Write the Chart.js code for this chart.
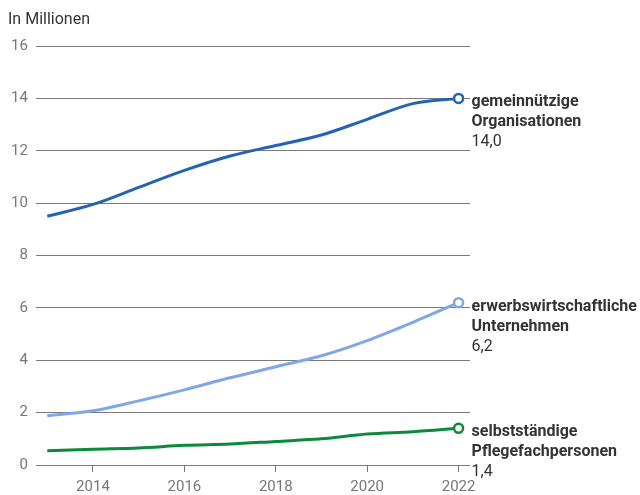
<!DOCTYPE html>
<html>
<head>
<meta charset="utf-8">
<script src="https://cdn.jsdelivr.net/npm/chart.js@4.4.1/dist/chart.umd.min.js"></script>
<style>
  html, body { margin: 0; padding: 0; background: #fff; }
  #wrap { width: 640px; height: 495px; }
</style>
</head>
<body>
<div id="wrap"><canvas id="chart" width="640" height="495"></canvas></div>
<script>
const years = [2013, 2014, 2015, 2016, 2017, 2018, 2019, 2020, 2021, 2022];
const gemeinnuetzig = [9.5, 9.95, 10.6, 11.25, 11.8, 12.2, 12.6, 13.2, 13.8, 14.0];
const erwerbswirtschaftlich = [1.88, 2.07, 2.45, 2.87, 3.33, 3.75, 4.17, 4.75, 5.45, 6.2];
const selbststaendig = [0.54, 0.6, 0.65, 0.75, 0.8, 0.9, 1.0, 1.18, 1.27, 1.4];
const seriesNames = [
    ['gemeinnützige', 'Organisationen'],
    ['erwerbswirtschaftliche', 'Unternehmen'],
    ['selbstständige', 'Pflegefachpersonen']
];
const seriesLabels = ['14,0', '6,2', '1,4'];
const yTicks = [0, 2, 4, 6, 8, 10, 12, 14, 16];
const xTicks = [2014, 2016, 2018, 2020, 2022];

const colors = ['#2462b3', '#7fa7e6', '#0b8a3c'];
const FONT = 'Roboto, "Noto Sans", sans-serif';

function makeSeries(values, idx) {
    return {
        label: seriesNames[idx].join(' '),
        data: years.map((y, i) => ({ x: y, y: values[i] })),
        borderColor: colors[idx],
        backgroundColor: '#ffffff',
        borderWidth: 3,
        cubicInterpolationMode: 'monotone',
        pointRadius: years.map((y, i) => i === years.length - 1 ? 4.5 : 0),
        pointBorderWidth: 2.5,
        pointBorderColor: colors[idx],
        pointBackgroundColor: '#ffffff',
        clip: false
    };
}

// unit caption above the y axis
const unitCaption = {
    id: 'unitCaption',
    afterDraw(chart) {
        const ctx = chart.ctx;
        ctx.save();
        ctx.font = '16px ' + FONT;
        ctx.fillStyle = '#333333';
        ctx.textBaseline = 'middle';
        ctx.textAlign = 'left';
        ctx.fillText('In Millionen', 8, 20);
        ctx.restore();
    }
};

// name and value written next to the last point of every line
const endLabels = {
    id: 'endLabels',
    afterDatasetsDraw(chart) {
        const ctx = chart.ctx;
        ctx.save();
        ctx.textAlign = 'left';
        ctx.textBaseline = 'middle';
        chart.data.datasets.forEach((ds, i) => {
            const meta = chart.getDatasetMeta(i);
            const pt = meta.data[meta.data.length - 1];
            const x = pt.x + 13;
            let y = pt.y + 4;
            ctx.fillStyle = '#333333';
            ctx.font = 'bold 16px ' + FONT;
            seriesNames[i].forEach(line => {
                ctx.fillText(line, x, y);
                y += 20;
            });
            ctx.font = '16px ' + FONT;
            ctx.fillText(seriesLabels[i], x, y);
        });
        ctx.restore();
    }
};

new Chart(document.getElementById('chart'), {
    type: 'line',
    data: {
        datasets: [
            makeSeries(gemeinnuetzig, 0),
            makeSeries(erwerbswirtschaftlich, 1),
            makeSeries(selbststaendig, 2)
        ]
    },
    options: {
        responsive: false,
        animation: false,
        layout: { padding: { left: 3, right: 170, top: 46, bottom: 0 } },
        plugins: {
            legend: { display: false },
            tooltip: { enabled: false }
        },
        scales: {
            x: {
                type: 'linear',
                min: 2012.75,
                max: 2022.25,
                afterBuildTicks(axis) {
                    axis.ticks = xTicks.map(v => ({ value: v }));
                },
                afterFit(axis) {
                    axis.height = 30;
                },
                border: { display: false },
                grid: {
                    drawOnChartArea: false,
                    drawTicks: true,
                    tickLength: 7,
                    color: '#777777'
                },
                ticks: {
                    color: '#777777',
                    font: { family: FONT, size: 15 },
                    padding: 6,
                    maxRotation: 0,
                    callback: v => String(v)
                }
            },
            y: {
                min: 0,
                max: 16,
                afterBuildTicks(axis) {
                    axis.ticks = yTicks.map(v => ({ value: v }));
                },
                border: { display: false },
                grid: {
                    drawTicks: false,
                    color: '#7a7a7a',
                    lineWidth: 1
                },
                ticks: {
                    color: '#777777',
                    font: { family: FONT, size: 15 },
                    padding: 8
                }
            }
        }
    },
    plugins: [unitCaption, endLabels]
});
</script>
</body>
</html>
